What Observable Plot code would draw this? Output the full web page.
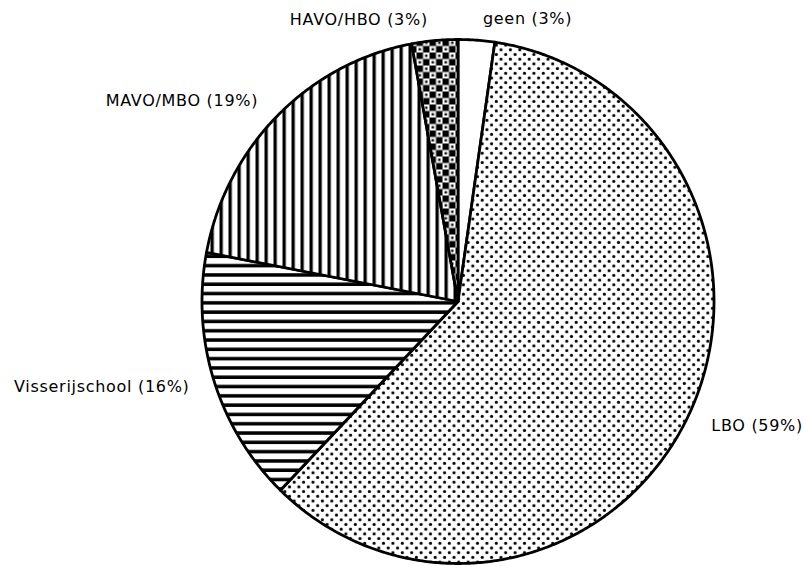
<!DOCTYPE html>
<html>
<head>
<meta charset="utf-8">
<script src="https://cdn.jsdelivr.net/npm/d3@7"></script>
<script src="https://cdn.jsdelivr.net/npm/@observablehq/plot@0.6"></script>
<style>
  html, body { margin: 0; padding: 0; background: #fff; }
  #chart svg { display: block; }
</style>
</head>
<body>
<div id="chart"></div>
<script>
// ---- data ----
const categories = ["geen", "LBO", "Visserijschool", "MAVO/MBO", "HAVO/HBO"];
const shares     = [2.3, 59.9, 15.8, 19.1, 2.9];          // slice sizes as drawn (%)
const labels     = ["geen (3%)", "LBO (59%)", "Visserijschool (16%)", "MAVO/MBO (19%)", "HAVO/HBO (3%)"];
const patterns   = ["none-white", "dots", "hlines", "vlines", "checker"];

// ---- layout ----
const W = 805, H = 566;
const cx = 457.5, cy = 301, rx = 256, ry = 262;
const labelR = 1.08;

const table = categories.map((c, i) => ({cat: c, value: shares[i], label: labels[i], pat: patterns[i]}));
const arcs = d3.pie().sort(null).value(d => d.value).startAngle(0).endAngle(2 * Math.PI)(table);

// outline polygon of each slice, in unit-circle coordinates
const pts = [];
for (const a of arcs) {
  const n = Math.max(4, Math.ceil((a.endAngle - a.startAngle) / (Math.PI / 360)));
  pts.push({cat: a.data.cat, pat: a.data.pat, x: 0, y: 0});
  for (let k = 0; k <= n; k++) {
    const t = a.startAngle + (a.endAngle - a.startAngle) * k / n;
    pts.push({cat: a.data.cat, pat: a.data.pat, x: Math.sin(t), y: Math.cos(t)});
  }
  pts.push({cat: a.data.cat, pat: a.data.pat, x: 0, y: 0});
}

const labelData = arcs.map(a => {
  const m = (a.startAngle + a.endAngle) / 2;
  return {label: a.data.label, x: labelR * Math.sin(m), y: labelR * Math.cos(m), right: Math.sin(m) >= 0};
});

const fillFor = p => p === "none-white" ? "white" : `url(#pat-${p})`;

const chart = Plot.plot({
  width: W,
  height: H,
  margin: 0,
  x: {domain: [-cx / rx, (W - cx) / rx], range: [0, W], axis: null},
  y: {domain: [-(H - cy) / ry, cy / ry], range: [H, 0], axis: null},
  color: {type: "identity"},
  style: {background: "white"},
  marks: [
    Plot.line(pts, {x: "x", y: "y", z: "cat", fill: d => fillFor(d.pat), stroke: "black", strokeWidth: 2.8, strokeLinejoin: "round", curve: "linear"}),
    Plot.text(labelData.filter(d => d.right), {x: "x", y: "y", text: "label", textAnchor: "start", dx: 5,
      fontFamily: "DejaVu Sans", fontSize: 16, fill: "black", lineAnchor: "middle"}),
    Plot.text(labelData.filter(d => !d.right), {x: "x", y: "y", text: "label", textAnchor: "end", dx: -5,
      fontFamily: "DejaVu Sans", fontSize: 16, fill: "black", lineAnchor: "middle"})
  ]
});

// pattern definitions
const ns = "http://www.w3.org/2000/svg";
const defs = document.createElementNS(ns, "defs");
defs.innerHTML = `
  <pattern id="pat-dots" patternUnits="userSpaceOnUse" width="9.4" height="9.4">
    <rect width="9.4" height="9.4" fill="white"/>
    <circle cx="2.3" cy="2.3" r="1.55" fill="black"/>
    <circle cx="7" cy="7" r="1.55" fill="black"/>
  </pattern>
  <pattern id="pat-hlines" patternUnits="userSpaceOnUse" width="20" height="9.3">
    <rect width="20" height="9.3" fill="white"/>
    <rect y="3" width="20" height="3.5" fill="black"/>
  </pattern>
  <pattern id="pat-vlines" patternUnits="userSpaceOnUse" width="9" height="20">
    <rect width="9" height="20" fill="white"/>
    <rect x="3" width="3.3" height="20" fill="black"/>
  </pattern>
  <pattern id="pat-checker" patternUnits="userSpaceOnUse" width="13" height="13">
    <rect width="13" height="13" fill="white"/>
    <rect x="0" y="0" width="6.5" height="6.5" fill="black"/>
    <rect x="6.5" y="6.5" width="6.5" height="6.5" fill="black"/>
    <rect x="8.6" y="2.1" width="2.4" height="2.4" fill="black"/>
    <rect x="2.1" y="8.6" width="2.4" height="2.4" fill="black"/>
  </pattern>`;
chart.insertBefore(defs, chart.firstChild);
chart.querySelectorAll("text").forEach(t => t.setAttribute("letter-spacing", "0.7"));
document.getElementById("chart").appendChild(chart);
</script>
</body>
</html>
